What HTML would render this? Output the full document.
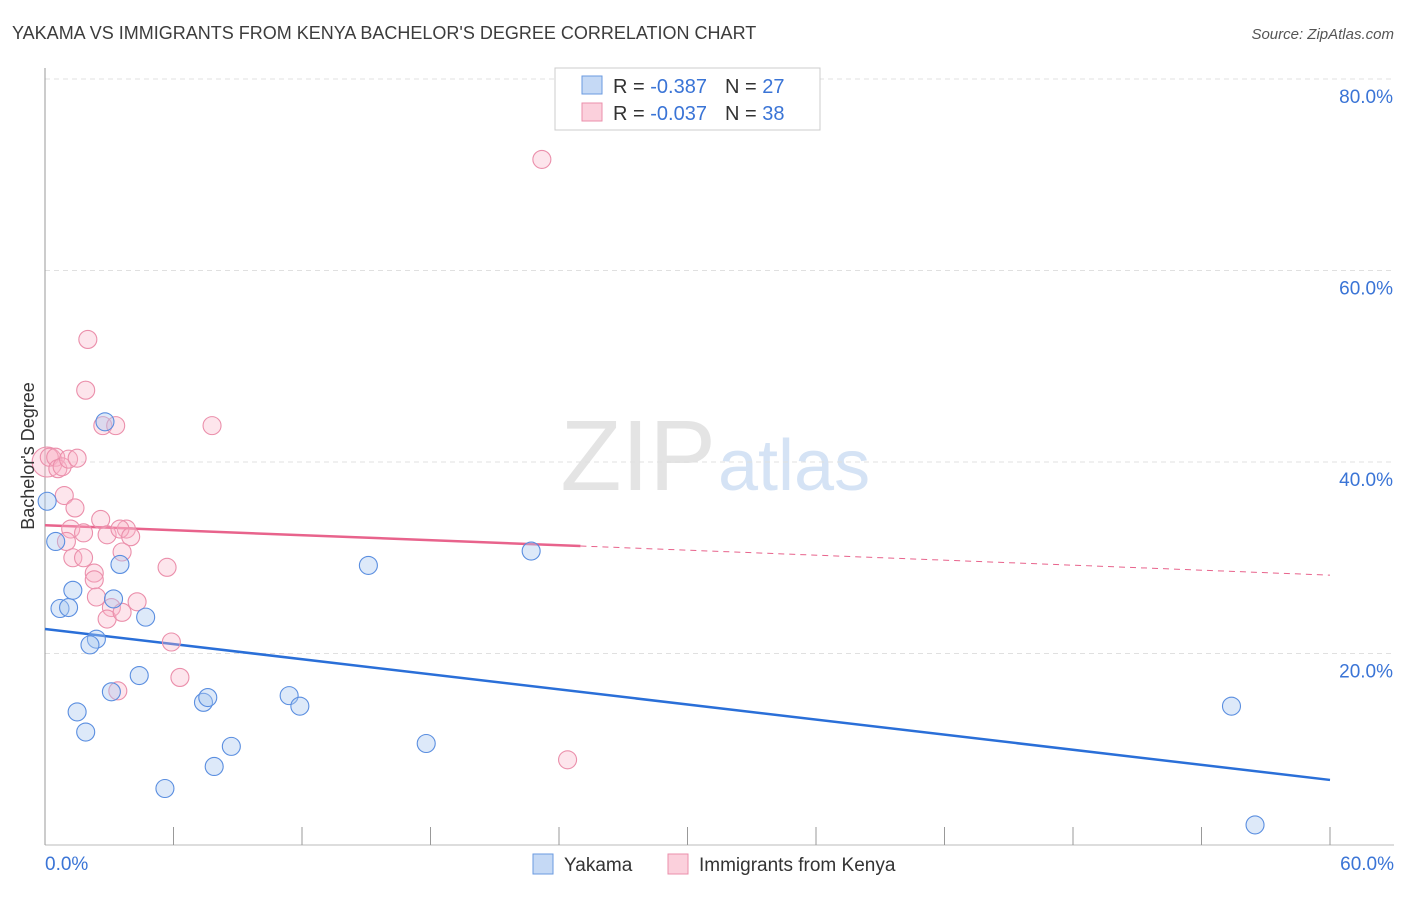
<!DOCTYPE html>
<html><head><meta charset="utf-8"><style>
body{margin:0;background:#fff;font-family:"Liberation Sans",sans-serif}
svg text{font-family:"Liberation Sans",sans-serif}
</style></head><body>
<svg width="1406" height="892" xmlns="http://www.w3.org/2000/svg" id="chart">
<text x="12" y="39" font-size="18" fill="#3c3c3c">YAKAMA VS IMMIGRANTS FROM KENYA BACHELOR'S DEGREE CORRELATION CHART</text>
<text x="1394" y="39" font-size="15" fill="#555" font-style="italic" text-anchor="end">Source: ZipAtlas.com</text>
<text x="716" y="490" font-size="100" fill="#e4e4e4" text-anchor="end" font-family="Liberation Serif">ZIP</text>
<text x="718" y="490" font-size="72" fill="#d5e3f5">atlas</text>
<g id="grid"></g>
<g id="axes"></g>
<g id="lines"></g>
<g id="points"></g>
<text transform="translate(34,456) rotate(-90)" font-size="18" fill="#333" text-anchor="middle">Bachelor's Degree</text>
<g>
<rect x="555" y="68" width="265" height="62" fill="#fff" stroke="#ccc"/>
<rect x="582" y="76" width="20" height="18" fill="#c5d9f5" stroke="#6a9ae0"/>
<rect x="582" y="103" width="20" height="18" fill="#fbd0dc" stroke="#eb8fab"/>
<text x="613" y="93" font-size="20" fill="#333">R = <tspan fill="#3a74d6">-0.387</tspan><tspan dx="18">N = </tspan><tspan fill="#3a74d6">27</tspan></text>
<text x="613" y="120" font-size="20" fill="#333">R = <tspan fill="#3a74d6">-0.037</tspan><tspan dx="18">N = </tspan><tspan fill="#3a74d6">38</tspan></text>
</g>
<g>
<rect x="533" y="854" width="20" height="20" fill="#c5d9f5" stroke="#6a9ae0"/>
<text x="564" y="871" font-size="19" fill="#333">Yakama</text>
<rect x="668" y="854" width="20" height="20" fill="#fbd0dc" stroke="#eb8fab"/>
<text x="699" y="871" font-size="19" fill="#333">Immigrants from Kenya</text>
</g>
</svg>
<script>
const yTicks=[20,40,60,80];
const yTickLabels=["20.0%","40.0%","60.0%","80.0%"];
const xEndLabels=["0.0%","60.0%"];
const yakamaX=[0.1,0.5,0.7,1.1,1.3,2.8,3.5,3.2,2.4,2.1,4.7,4.4,3.1,1.5,1.9,5.6,7.4,7.6,7.9,8.7,11.4,11.9,15.1,17.8,22.7,55.4,56.5];
const yakamaY=[35.9,31.7,24.7,24.8,26.6,44.2,29.3,25.7,21.5,20.9,23.8,17.7,16.0,13.9,11.8,5.9,14.9,15.4,8.2,10.3,15.6,14.5,29.2,10.6,30.7,14.5,2.1];
const kenyaX=[0.1,0.2,0.5,0.6,0.8,1.1,1.5,1.9,2.0,2.7,3.3,3.8,7.8,23.2,0.9,1.4,1.2,1.8,2.6,2.9,3.5,4.0,3.6,1.0,1.3,1.8,2.3,2.3,5.7,2.4,3.1,2.9,3.6,4.3,5.9,6.3,3.4,24.4];
const kenyaY=[40.0,40.5,40.5,39.3,39.5,40.3,40.4,47.5,52.8,43.8,43.8,33.0,43.8,71.6,36.5,35.2,33.0,32.6,34.0,32.4,33.0,32.2,30.6,31.7,30.0,30.0,28.4,27.7,29.0,25.9,24.8,23.6,24.3,25.4,21.2,17.5,16.1,8.9];
const kenyaTrend=[33.4,-0.087];
const xMax=60;
const X=v=>45+v/xMax*1285, Y=v=>845-v*9.575;
const NS="http://www.w3.org/2000/svg";
function mk(tag,attrs,parent){const e=document.createElementNS(NS,tag);for(const k in attrs)e.setAttribute(k,attrs[k]);document.getElementById(parent).appendChild(e);return e;}
yTicks.forEach((t,i)=>{
 const l=mk('line',{x1:45,x2:1394,y1:Y(t),y2:Y(t),stroke:'#e0e0e0','stroke-dasharray':'5,4'},'grid');
 
 
 const tx=mk('text',{x:1393,y:Y(t)+24,'font-size':19,fill:'#3a74d6','text-anchor':'end'},'grid');
 tx.textContent=yTickLabels[i];
 
 
});
let a=mk('line',{x1:45,x2:45,y1:68,y2:845,stroke:'#999'},'axes');


a=mk('line',{x1:45,x2:1394,y1:845,y2:845,stroke:'#bbb'},'axes');


for(let i=0;i<=10;i++){const t=mk('line',{x1:X(i*6),x2:X(i*6),y1:827,y2:845,stroke:'#999'},'axes');
 
 }
[[0,'start',45],[1,'end',1394]].forEach(([i,an,x])=>{const t=mk('text',{x:x,y:870,'font-size':19,fill:'#3a74d6','text-anchor':an},'axes');t.textContent=xEndLabels[i];
 
 });
function fit(xs,ys){const n=xs.length,mx=xs.reduce((a,b)=>a+b)/n,my=ys.reduce((a,b)=>a+b)/n;let sxy=0,sxx=0;xs.forEach((x,i)=>{sxy+=(x-mx)*(ys[i]-my);sxx+=(x-mx)**2});const b=sxy/sxx;return [my-b*mx,b];}
let [ab,bb]=fit(yakamaX,yakamaY);
let tl=mk('line',{x1:X(0),y1:Y(ab),x2:X(60),y2:Y(ab+bb*60),stroke:'#2a6fd8','stroke-width':2.5},'lines');


let [ak,bk]=kenyaTrend;
tl=mk('line',{x1:X(0),y1:Y(ak),x2:X(25),y2:Y(ak+bk*25),stroke:'#e8638c','stroke-width':2.5},'lines');


tl=mk('line',{x1:X(25),y1:Y(ak+bk*25),x2:X(60),y2:Y(ak+bk*60),stroke:'#e8638c','stroke-width':1,'stroke-dasharray':'6,5'},'lines');


kenyaX.forEach((x,i)=>{const c=mk('circle',{cx:X(x),cy:Y(kenyaY[i]),r:i==0?15:9,fill:'rgba(248,180,200,0.35)',stroke:'#eb8fab','stroke-width':1.1},'points');
 
 });
yakamaX.forEach((x,i)=>{const c=mk('circle',{cx:X(x),cy:Y(yakamaY[i]),r:9,fill:'rgba(170,200,240,0.4)',stroke:'#5a8ee0','stroke-width':1.1},'points');
 
 });
</script>
</body></html>
